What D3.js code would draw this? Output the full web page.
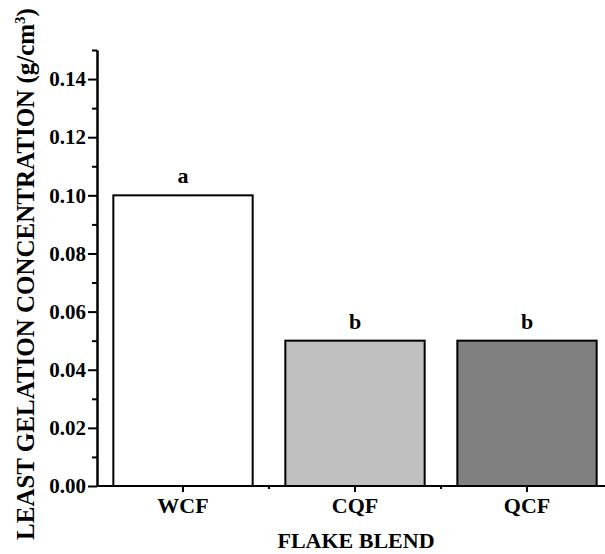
<!DOCTYPE html>
<html lang="en">
<head>
<meta charset="utf-8">
<title>Least gelation concentration</title>
<script src="https://cdn.jsdelivr.net/npm/d3@7"></script>
<style>
  body { margin: 0; background: #fff; }
  svg text { font-family: "Liberation Serif", "Times New Roman", serif; font-weight: bold; fill: #000; }
  .axis path, .axis line { stroke: #000; stroke-width: 2; fill: none; }
</style>
</head>
<body>
<svg id="chart" width="605" height="554"></svg>
<script>
// data
var blends = ["WCF", "CQF", "QCF"];
var lgc = [0.10, 0.05, 0.05];
var letters = ["a", "b", "b"];
var fills = ["#ffffff", "#c0c0c0", "#808080"];
var yMajor = [0, 0.02, 0.04, 0.06, 0.08, 0.10, 0.12, 0.14];
var yMinor = [0.01, 0.03, 0.05, 0.07, 0.09, 0.11, 0.13, 0.15];

var svg = d3.select("#chart");
var padL = 97, padB = 486, padT = 50;

var x = d3.scaleBand().domain(blends)
  .range([padL, padL + 3 * 172])
  .paddingInner(0.19).paddingOuter(0.095);
var y = d3.scaleLinear().domain([0, 0.15]).range([padB, padT]);

// bars
svg.selectAll(".bar")
  .data(blends)
  .enter()
  .append("rect")
  .attr("class", "bar")
  .attr("x", function(d) { return x(d); })
  .attr("y", function(d, i) { return y(lgc[i]); })
  .attr("width", x.bandwidth())
  .attr("height", function(d, i) { return padB - y(lgc[i]); })
  .attr("fill", function(d, i) { return fills[i]; })
  .attr("stroke", "#000")
  .attr("stroke-width", 2);

// significance letters
svg.selectAll(".sig")
  .data(blends)
  .enter()
  .append("text")
  .attr("class", "sig")
  .attr("x", function(d) { return x(d) + x.bandwidth() / 2; })
  .attr("y", function(d, i) { return y(lgc[i]) - 12; })
  .attr("text-anchor", "middle")
  .style("font-size", "22px")
  .text(function(d, i) { return letters[i]; });

// y axis: minor then major
svg.append("g")
  .attr("class", "axis")
  .attr("transform", "translate(" + padL + ",0)")
  .call(d3.axisLeft(y).tickValues(yMinor).tickSize(5).tickSizeOuter(0).tickFormat(""));

var yAxis = svg.append("g")
  .attr("class", "axis")
  .attr("transform", "translate(" + padL + ",0)")
  .call(d3.axisLeft(y).tickValues(yMajor).tickSize(9).tickSizeOuter(0).tickPadding(2)
    .tickFormat(d3.format(".2f")));
yAxis.selectAll("text").style("font-size", "21px");

// x axis line + ticks
var xa = svg.append("g").attr("class", "axis");
xa.append("line")
  .attr("x1", padL).attr("x2", 605)
  .attr("y1", padB).attr("y2", padB);
xa.selectAll(".major")
  .data(blends)
  .enter()
  .append("line")
  .attr("class", "major")
  .attr("x1", function(d) { return x(d) + x.bandwidth() / 2; })
  .attr("x2", function(d) { return x(d) + x.bandwidth() / 2; })
  .attr("y1", padB).attr("y2", padB + 6);
xa.selectAll(".minor")
  .data(blends.slice(1))
  .enter()
  .append("line")
  .attr("class", "minor")
  .attr("x1", function(d) { return x(d) - x.step() * x.paddingInner() / 2; })
  .attr("x2", function(d) { return x(d) - x.step() * x.paddingInner() / 2; })
  .attr("y1", padB).attr("y2", padB + 3);
xa.selectAll(".lbl")
  .data(blends)
  .enter()
  .append("text")
  .attr("class", "lbl")
  .attr("x", function(d) { return x(d) + x.bandwidth() / 2; })
  .attr("y", 513)
  .attr("text-anchor", "middle")
  .style("font-size", "22px")
  .text(function(d) { return d; });

// axis titles
svg.append("text")
  .attr("x", 356)
  .attr("y", 548)
  .attr("text-anchor", "middle")
  .style("font-size", "22px")
  .text("FLAKE BLEND");

var yt = svg.append("text")
  .attr("transform", "translate(34,274) rotate(-90)")
  .attr("text-anchor", "middle")
  .style("font-size", "25px");
yt.append("tspan").text("LEAST GELATION CONCENTRATION (g/cm");
yt.append("tspan").attr("dy", -9).style("font-size", "15px").text("3");
yt.append("tspan").attr("dy", 9).text(")");
</script>
</body>
</html>
